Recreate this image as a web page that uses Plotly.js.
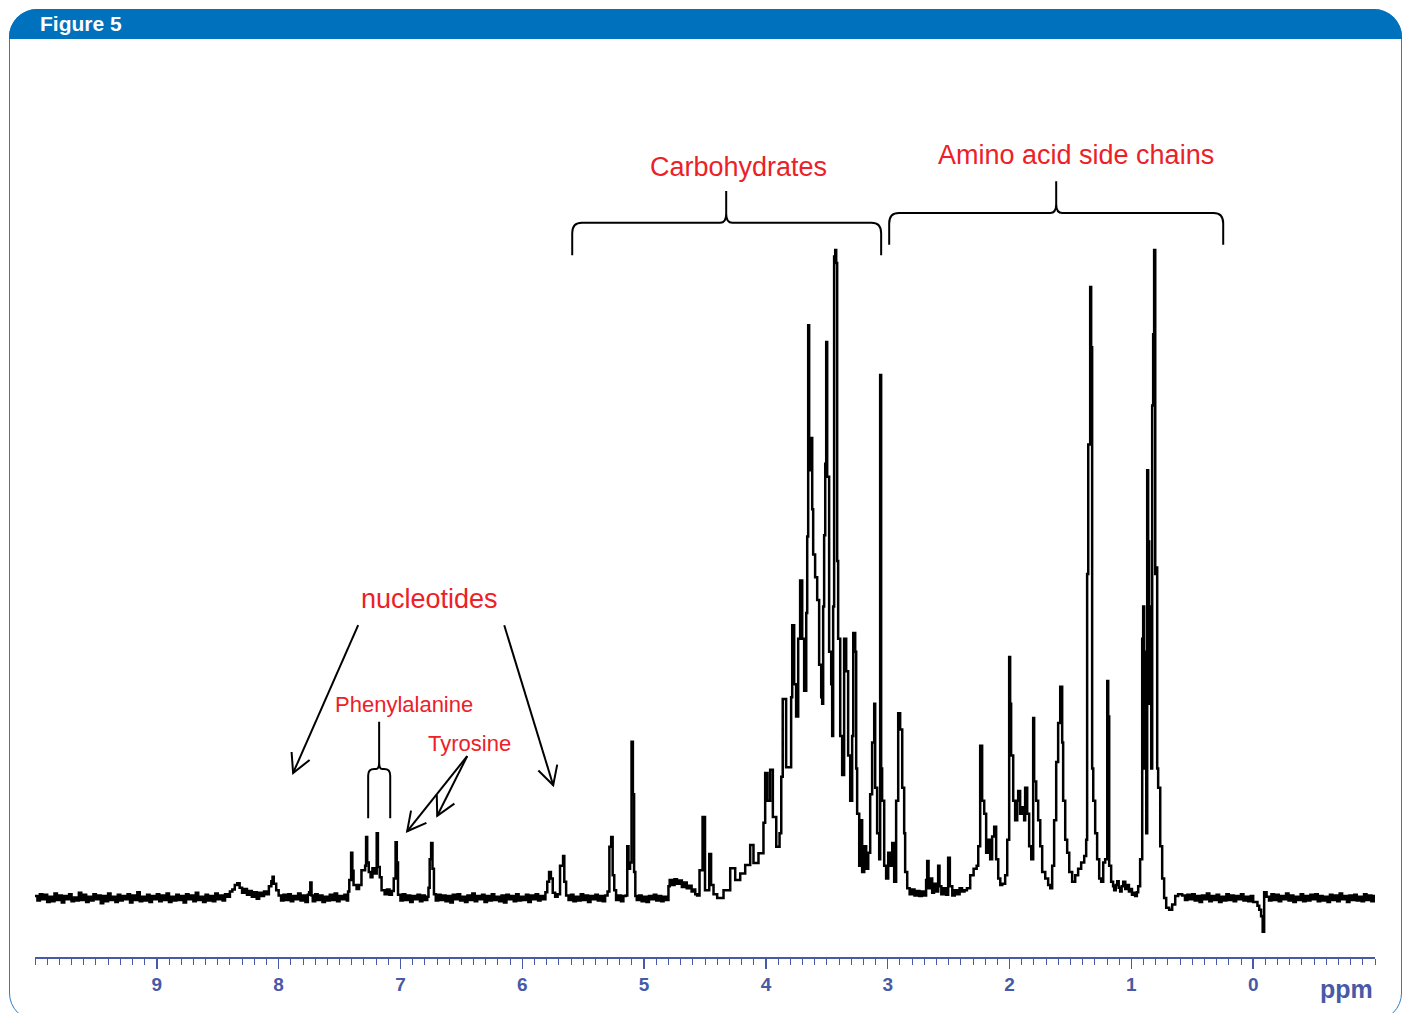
<!DOCTYPE html>
<html>
<head>
<meta charset="utf-8">
<script src="https://cdn.plot.ly/plotly-3.0.1.min.js"></script>
<style>
  html, body { margin: 0; padding: 0; background: #fff; width: 1405px; height: 1013px; overflow: hidden; }
  #frame { position: absolute; left: 9px; top: 9px; width: 1393px; height: 1012px; box-sizing: border-box;
           border: 1.5px solid #2a7dc3; border-radius: 28px; }
  #band  { position: absolute; left: 9px; top: 9px; width: 1393px; height: 30px; background: #0071bc;
           border-radius: 28px 28px 0 0; }
  #chart { position: absolute; left: 0; top: 0; width: 1405px; height: 1013px; }
</style>
</head>
<body>
<div id="frame"></div>
<div id="band"></div>
<div id="chart"></div>
<script>
// 1H NMR spectrum: chemical shift (ppm) and relative intensity (tallest line = 100)

// downfield region: aromatic / nucleotide signals
const ppmDownfield = [10.00,9.98,9.96,9.94,9.92,9.90,9.88,9.86,9.84,9.82,
  9.80,9.78,9.76,9.74,9.72,9.70,9.68,9.66,9.64,9.62,
  9.60,9.58,9.56,9.54,9.52,9.50,9.48,9.46,9.44,9.42,
  9.40,9.38,9.36,9.34,9.32,9.30,9.28,9.26,9.24,9.22,
  9.20,9.18,9.16,9.14,9.12,9.10,9.08,9.06,9.04,9.02,
  9.00,8.98,8.96,8.94,8.92,8.90,8.88,8.86,8.84,8.82,
  8.80,8.78,8.76,8.74,8.72,8.70,8.68,8.66,8.64,8.62,
  8.60,8.58,8.56,8.54,8.52,8.50,8.48,8.46,8.44,
  8.42,8.40,8.38,8.36,8.34,8.32,8.30,8.28,8.26,8.24,8.22,8.20,8.18,8.16,8.14,8.12,8.10,8.08,8.06,8.05,8.04,8.02,8.00,
  7.98,7.96,7.94,7.92,7.90,7.88,7.86,7.84,7.82,7.80,7.78,7.76,7.75,7.74,7.73,7.72,7.70,7.68,7.66,7.64,
  7.62,7.60,7.58,7.56,7.54,7.52,7.50,7.48,7.46,7.44,
  7.43,7.42,7.405,7.395,7.385,7.36,7.34,7.32,7.29,7.282,
  7.273,7.26,7.245,7.23,7.21,7.195,7.185,7.17,7.155,7.13,
  7.11,7.09,7.07,7.055,7.04,7.03,7.02,7.00,6.98,6.96,
  6.94,6.92,6.90,6.88,6.86,6.84,6.82,6.80,6.78,6.77,
  6.76,6.748,6.737,6.725,6.71,6.69,6.67,
  6.65,6.63,6.61,6.59,6.57,6.55,6.53,6.51,6.49,6.47,
  6.45,6.43,6.41,6.39,6.37,6.35,6.33,6.31,6.29,6.27,
  6.25,6.23,6.21,6.19,6.17,6.15,6.13,6.11,6.09,6.07,
  6.05,6.03,6.01,5.99,5.97,5.95,5.93,5.91,5.89,5.87,
  5.85,5.83];
const intDownfield = [0.3,-0.4,0.6,-0.2,0.5,-0.6,0.2,-0.5,0.7,-0.3,
  0.4,-0.7,0.3,-0.2,0.6,-0.5,0.1,-0.4,0.8,-0.3,
  0.5,-0.6,0.2,-0.4,0.6,-0.2,0.4,-0.8,0.3,-0.5,
  0.7,-0.3,0.2,-0.6,0.5,-0.4,0.3,-0.2,0.6,-0.7,
  0.4,-0.3,0.9,-0.5,0.2,-0.4,0.5,-0.6,0.3,-0.2,
  0.6,-0.5,0.4,-0.3,0.7,-0.6,0.2,-0.4,0.5,-0.3,
  0.3,-0.7,0.6,-0.2,0.4,-0.5,0.8,-0.3,0.2,-0.6,
  0.5,-0.4,0.3,-0.5,0.7,-0.2,0.4,-0.4,0.6,
  0.2,1.0,1.3,2.0,2.3,1.6,0.8,1.4,0.5,1.1,0.2,0.9,-0.1,0.8,0.3,1.0,0.6,1.8,2.6,3.3,2.2,1.2,0.4,
  -0.4,0.5,-0.3,0.6,-0.5,0.3,-0.2,0.7,-0.4,0.4,-0.6,0.5,0.9,2.4,0.4,-0.5,0.6,-0.3,0.4,-0.6,
  0.2,-0.4,0.5,-0.3,0.7,-0.5,0.3,-0.2,0.5,-0.4,
  1.0,2.8,7.0,4.2,2.0,1.4,2.0,4.3,5.0,9.4,
  5.5,4.0,3.2,4.6,3.8,10.0,4.8,3.2,1.2,0.6,
  1.3,0.5,1.1,3.0,8.6,5.5,0.5,-0.4,0.6,-0.3,
  0.4,-0.6,0.3,-0.2,0.5,-0.5,0.4,-0.3,0.2,1.6,
  6.0,8.5,4.5,0.6,-0.4,0.5,-0.3,
  0.4,-0.5,0.3,-0.7,0.5,-0.2,0.6,-0.4,0.2,-0.6,
  0.4,-0.3,0.7,-0.5,0.3,-0.2,0.5,-0.6,0.3,-0.4,
  0.6,-0.3,0.2,-0.5,0.4,-0.7,0.5,-0.2,0.3,-0.5,
  0.6,-0.4,0.2,-0.3,0.5,-0.6,0.4,-0.2,0.6,-0.4,
  0.3,-0.2];

// mid region: anomeric and carbohydrate ring protons
const ppmCarbo = [5.81,5.795,5.78,5.765,5.75,5.73,5.71,5.69,5.665,5.655,
  5.64,5.62,5.60,5.58,5.56,5.54,5.52,5.50,5.48,5.46,5.44,5.42,5.40,5.38,5.36,5.34,5.32,5.30,
  5.285,5.27,5.258,5.245,5.23,5.21,5.19,5.17,5.15,5.138,
  5.128,5.115,5.103,5.092,5.082,5.072,
  5.06,5.04,5.02,5.00,4.98,4.96,4.94,4.92,4.90,4.88,4.86,4.84,4.82,
  4.80,4.79,4.77,4.75,4.73,4.71,4.69,4.67,4.65,4.63,4.61,4.59,4.58,4.565,
  4.545,4.52,4.50,4.465,4.45,4.43,4.40,
  4.348,4.293,4.252,4.211,4.170,4.129,4.102,4.061,4.020,4.006,
  3.987,3.965,3.943,3.915,3.888,3.874,3.862,3.834,3.809,3.793,
  3.784,3.768,3.752,3.735,3.719,3.702,3.686,3.669,3.661,3.653,
  3.645,3.628,3.620,3.612,3.596,3.579,3.563,3.546,3.538,3.530,
  3.522,3.513,3.505,3.497,3.481,3.464,3.456,3.448,3.440,3.431,
  3.423,3.415,3.407,3.390,3.374,3.358,3.341,3.325,3.308,3.292,
  3.283,3.267,3.259,3.251,3.234,3.226,3.210,3.193,3.177,3.160,
  3.144,3.128,3.111,3.103,3.087,3.070,3.062,3.054,3.046,3.029,
  3.013,2.996,2.980,2.963,2.947,2.931,2.914,2.898,2.881,2.865,
  2.857,2.840];
const intCarbo = [0.9,2.5,4.0,3.0,0.8,0.2,0.6,5.0,6.5,2.5,
  0.4,-0.3,0.5,-0.5,0.2,-0.4,0.6,-0.3,0.4,-0.6,0.3,-0.2,0.5,-0.4,0.3,-0.5,0.4,1.0,
  7.9,9.4,3.5,1.2,-0.3,0.4,-0.5,0.3,0.4,8.0,
  4.5,5.5,24.1,16.0,4.0,0.3,
  -0.3,0.4,-0.5,0.2,-0.6,0.3,-0.2,0.5,-0.4,0.3,-0.5,0.2,-0.3,
  1.8,2.8,2.0,2.9,2.2,2.7,1.7,2.4,1.5,1.9,1.0,1.3,0.6,0.4,
  4.3,12.5,1.2,6.8,2.0,0.6,0.0,
  1.2,4.6,2.8,3.8,5.1,8.2,5.4,6.9,11.6,19.3,
  15,19.8,12.5,7.9,10,18.7,30.7,20.2,20.2,31,
  42.1,33,28,40,49,40,32,44,55.8,88.4,
  66,71,60,53,49.5,46,36,31,30,45,
  56,67,85.8,65,38,33,25,45,99,100,
  98,52,40,25,19,40,35,22,15,25,
  40.9,38,20,13,5,12,4,8,4.5,7,
  16,24,30,17,10,6,80.7,20,15,5,
  3,7,5,8.5,2.5,15,28.5,26,17,10,
  4,1.5];

// upfield region: amino acid side chains
const ppmAliphatic = [2.82,2.80,2.78,2.76,2.74,2.72,2.70,2.685,2.676,2.665,2.65,2.635,
  2.62,2.60,2.586,2.575,2.56,2.54,2.52,2.504,2.49,2.47,
  2.45,2.43,2.41,2.39,2.37,2.35,2.323,2.295,2.27,2.257,
  2.241,2.225,2.208,2.192,2.175,2.159,2.143,2.126,2.110,2.093,
  2.076,2.060,2.036,2.019,2.003,1.995,1.987,1.970,1.954,1.937,
  1.929,1.913,1.896,1.880,1.872,1.855,1.839,1.822,1.806,1.798,
  1.781,1.765,1.748,1.732,1.707,1.683,1.666,1.650,1.634,1.617,
  1.601,1.584,1.568,1.560,1.543,1.527,1.510,1.486,1.461,1.437,
  1.412,1.387,1.371,1.363,1.354,1.338,1.330,1.322,1.313,1.297,
  1.281,1.264,1.248,1.231,1.215,1.198,1.190,1.182,1.166,1.150,1.141,1.128,
  1.116,1.104,1.092,1.080,1.067,1.050,1.034,1.020,1.010,0.995,0.985,0.969,0.955,0.944,0.928,0.911,
  0.903,0.895,0.887,0.878,0.870,0.862,0.854,0.846,0.837,0.829,
  0.821,0.813,0.804,0.796,0.788,0.780,0.763,0.747,0.731,0.714,
  0.690,0.665,0.640,0.616,0.583];
const intAliphatic = [0.6,1.3,0.4,1.1,0.3,1.0,0.4,2.8,5.7,1.5,3.0,0.8,
  2.2,1.0,5.0,1.8,0.6,1.5,0.5,6.2,1.8,0.4,
  1.2,0.6,1.5,1.0,1.2,1.5,3.5,4.5,5.0,8.0,
  23.5,15,13,7,9,6,9.5,11,6,3,
  2.0,2.2,3.5,9,37.2,30,22,15,12,15,
  16.5,13,14,12,17,13,8,6,27.8,18,
  15,12,8,4,3,2,1.5,5,12,21,
  27,32.6,24,15,9,7,4,2.5,3.5,4.5,
  5.5,6.5,9,50,70,94.3,85,20,15,10,
  6,3,2.5,5.5,6,33.5,28,5,2.5,1.8,1.2,2.0,
  2.6,1.6,1.0,1.8,2.5,1.4,2.0,1.0,1.4,0.5,0.8,0.3,0.9,1.8,6,40,
  45,20,38,10,66,55,30,45,20,76,
  87,100,50,51,20,17,8,3,0,-1.5,
  -1.8,-1.0,0.3,0.6,0.4];

// reference region around 0 ppm
const ppmReference = [0.56,0.54,0.52,0.50,0.48,0.46,0.44,0.42,0.40,0.38,
  0.36,0.34,0.32,0.30,0.28,0.26,0.24,0.22,0.20,0.18,
  0.16,0.14,0.12,0.10,0.08,0.06,0.04,0.02,0.00,
  -0.02,-0.035,-0.05,-0.065,-0.078,-0.09,
  -0.11,-0.13,-0.15,-0.17,-0.19,-0.21,-0.23,-0.25,-0.27,-0.29,
  -0.31,-0.33,-0.35,-0.37,-0.39,-0.41,-0.43,-0.45,-0.47,-0.49,
  -0.51,-0.53,-0.55,-0.57,-0.59,-0.61,-0.63,-0.65,-0.67,-0.69,
  -0.71,-0.73,-0.75,-0.77,-0.79,-0.81,-0.83,-0.85,-0.87,-0.89,
  -0.91,-0.93,-0.95,-0.97,-0.99,-1.00];
const intReference = [-0.3,0.5,-0.2,0.6,-0.4,0.3,-0.6,0.4,-0.2,0.7,
  -0.5,0.3,-0.3,0.5,-0.6,0.2,-0.4,0.6,-0.3,0.4,
  -0.5,0.3,-0.2,0.6,-0.4,0.2,-0.5,0.3,-0.6,
  -0.6,-1.2,-1.8,-2.8,-5.2,0.9,
  0.2,-0.4,0.6,-0.3,0.5,-0.5,0.3,-0.2,0.7,-0.4,
  0.4,-0.6,0.2,-0.3,0.6,-0.5,0.3,-0.4,0.5,-0.2,
  0.6,-0.5,0.3,-0.4,0.2,-0.6,0.5,-0.3,0.4,-0.5,
  0.7,-0.2,0.3,-0.6,0.4,-0.3,0.5,-0.4,0.2,-0.5,
  0.6,-0.3,0.4,-0.5,0.3,0.0];

// axis ticks
const tickPpm = [9, 8, 7, 6, 5, 4, 3, 2, 1, 0];
const tickText = ['9', '8', '7', '6', '5', '4', '3', '2', '1', '0'];

const W = 1405, H = 1013;
const M = { l: 35, r: 30, t: 100, b: 56 };
const X_RANGE = [10, -1];
const Y_RANGE = [-9.1, 123.15];
const plotW = W - M.l - M.r, plotH = H - M.t - M.b;
const kx = plotW / (X_RANGE[0] - X_RANGE[1]);   // px per ppm
const ky = plotH / (Y_RANGE[1] - Y_RANGE[0]);   // px per intensity unit

const AXIS_BLUE = '#4859a6';
const LABEL_RED = '#ec2128';
const FONT = 'Liberation Sans, Arial, Helvetica, sans-serif';

const shiftPpm = [].concat(ppmDownfield, ppmCarbo, ppmAliphatic, ppmReference);
const intensity = [].concat(intDownfield, intCarbo, intAliphatic, intReference);

const spectrum = {
  type: 'scatter', mode: 'lines',
  x: shiftPpm, y: intensity,
  line: { color: '#000', width: 2.5, shape: 'hv' },
  hoverinfo: 'skip', showlegend: false
};

// curly brace grouping a ppm range: hi/lo = ends (ppm), mid = cusp, end/bar/tip = heights
function bracePath(b) {
  const f = v => v.toFixed(4);
  const { hi, lo, mid, end, bar, tip, rx, ry, cx, cy } = b;
  return `M${f(hi)},${f(end)} L${f(hi)},${f(bar - ry)} Q${f(hi)},${f(bar)} ${f(hi - rx)},${f(bar)} ` +
         `L${f(mid + cx)},${f(bar)} Q${f(mid)},${f(bar)} ${f(mid)},${f(bar + cy)} L${f(mid)},${f(tip)} ` +
         `L${f(mid)},${f(bar + cy)} Q${f(mid)},${f(bar)} ${f(mid - cx)},${f(bar)} ` +
         `L${f(lo + rx)},${f(bar)} Q${f(lo)},${f(bar)} ${f(lo)},${f(bar - ry)} L${f(lo)},${f(end)}`;
}

const braces = [
  { hi: 5.59, lo: 3.054, mid: 4.326, end: 99.2, bar: 104.2, tip: 109.1, rx: 0.08, ry: 1.6, cx: 0.05, cy: 1.4 },
  { hi: 2.988, lo: 0.246, mid: 1.617, end: 100.8, bar: 105.7, tip: 110.6, rx: 0.08, ry: 1.6, cx: 0.05, cy: 1.4 },
  { hi: 7.265, lo: 7.084, mid: 7.175, end: 12.3, bar: 19.9, tip: 27.2, rx: 0.05, ry: 1.0, cx: 0.025, cy: 1.0 }
];

// straight arrows with an open V head
const arrows = [
  { from: [7.347, 42.1], to: [7.881, 19.3] },
  { from: [6.148, 42.1], to: [5.746, 17.4] },
  { from: [6.452, 21.9], to: [6.945, 10.3] },
  { from: [6.452, 21.9], to: [6.698, 12.7] }
];
const HEAD_LEN = 21, HEAD_ANGLE = 28 * Math.PI / 180;

function arrowShapes(a) {
  const dx = -(a.to[0] - a.from[0]) * kx, dy = (a.to[1] - a.from[1]) * ky;
  const len = Math.hypot(dx, dy), vx = -dx / len, vy = -dy / len;
  const arm = s => {
    const c = Math.cos(s * HEAD_ANGLE), n = Math.sin(s * HEAD_ANGLE);
    const ox = (vx * c - vy * n) * HEAD_LEN, oy = (vx * n + vy * c) * HEAD_LEN;
    return [a.to[0] - ox / kx, a.to[1] + oy / ky];
  };
  const p1 = arm(1), p2 = arm(-1);
  const ln = { color: '#000', width: 2 };
  return [
    { type: 'line', xref: 'x', yref: 'y', x0: a.from[0], y0: a.from[1], x1: a.to[0], y1: a.to[1], line: ln },
    { type: 'path', xref: 'x', yref: 'y', line: ln,
      path: `M${p1[0]},${p1[1]} L${a.to[0]},${a.to[1]} L${p2[0]},${p2[1]}` }
  ];
}

const shapes = braces.map(b => ({ type: 'path', xref: 'x', yref: 'y', path: bracePath(b),
                                  line: { color: '#000', width: 2 } }))
  .concat(...arrows.map(arrowShapes));

const redLabel = (text, x, y, size) => ({
  text, x, y, xref: 'x', yref: 'y', showarrow: false, xanchor: 'center', yanchor: 'middle',
  font: { family: FONT, size, color: LABEL_RED }
});

const annotations = [
  redLabel('Carbohydrates', 4.228, 112.8, 27),
  redLabel('Amino acid side chains', 1.453, 114.7, 27),
  redLabel('nucleotides', 6.764, 46.1, 27),
  redLabel('Phenylalanine', 6.969, 29.8, 22),
  redLabel('Tyrosine', 6.436, 23.9, 22),
  { text: 'ppm', x: -0.77, xref: 'x', y: -0.037, yref: 'paper', showarrow: false,
    xanchor: 'center', yanchor: 'middle',
    font: { family: FONT, size: 25, color: AXIS_BLUE, weight: 'bold' } }
];

const layout = {
  width: W, height: H,
  margin: M,
  paper_bgcolor: 'rgba(0,0,0,0)', plot_bgcolor: 'rgba(0,0,0,0)',
  title: { text: 'Figure 5', xref: 'container', yref: 'container', x: 40 / W, xanchor: 'left',
           y: 1 - 24 / H, yanchor: 'middle',
           font: { family: FONT, size: 21, color: '#ffffff', weight: 'bold' } },
  xaxis: {
    range: X_RANGE, showgrid: false, zeroline: false,
    showline: true, linecolor: AXIS_BLUE, linewidth: 1.5,
    tickmode: 'array', tickvals: tickPpm, ticktext: tickText,
    ticks: 'outside', ticklen: 10, tickwidth: 1.5, tickcolor: AXIS_BLUE,
    tickfont: { family: FONT, size: 19, color: AXIS_BLUE, weight: 'bold' },
    minor: { dtick: 0.1, tick0: 0, ticks: 'outside', ticklen: 6, tickwidth: 1, tickcolor: AXIS_BLUE, showgrid: false }
  },
  yaxis: { range: Y_RANGE, visible: false, showgrid: false, zeroline: false },
  showlegend: false,
  shapes, annotations
};

Plotly.newPlot('chart', [spectrum], layout, { displayModeBar: false, staticPlot: true });
</script>
</body>
</html>
